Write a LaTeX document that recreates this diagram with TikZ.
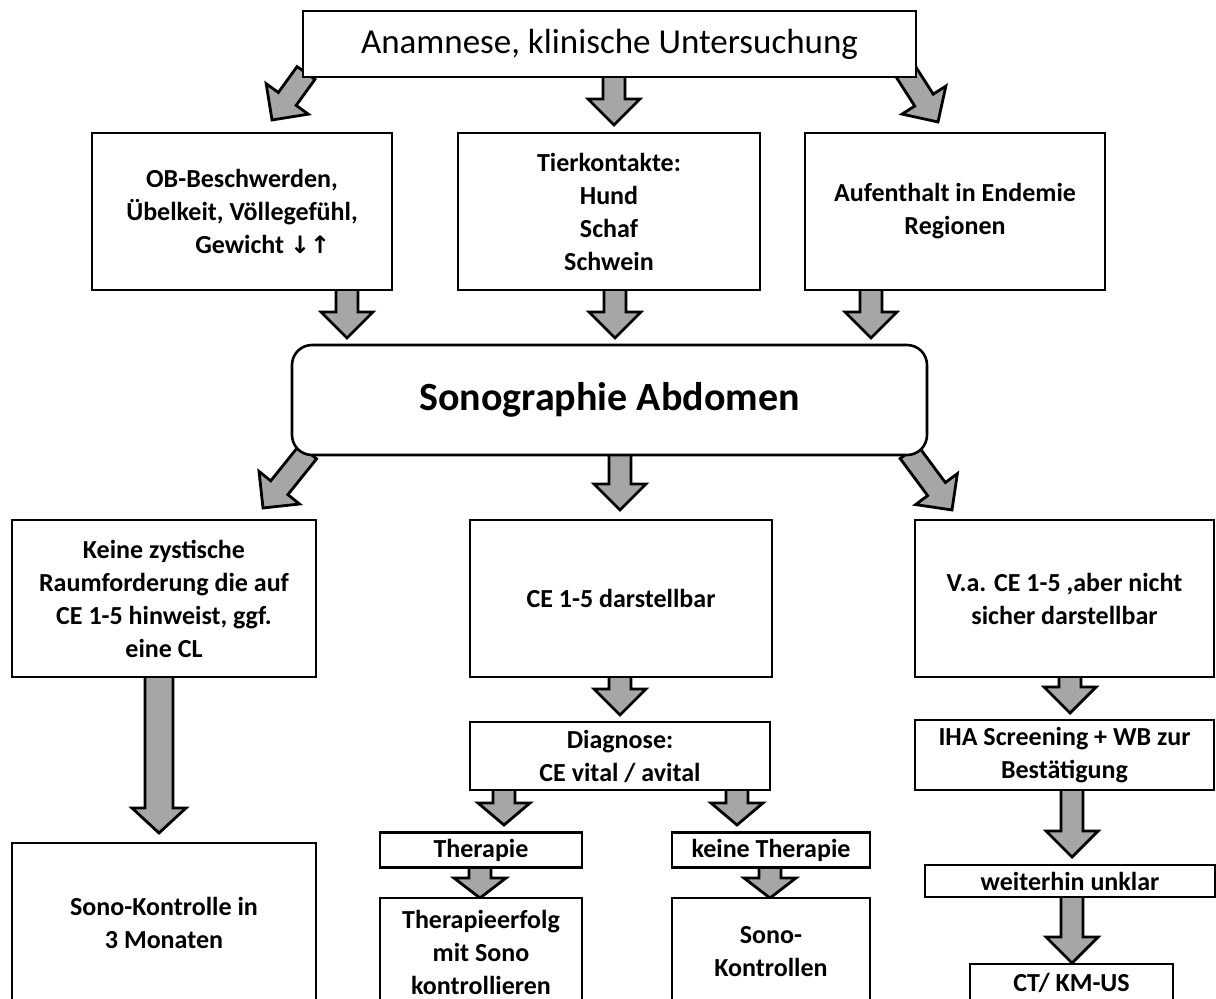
\documentclass[tikz,border=0pt]{standalone}
\usepackage{fontspec}
\setmainfont{Carlito}
\newfontfamily\arrowfont{DejaVu Sans}
\usetikzlibrary{calc,backgrounds}
\pgfdeclarelayer{background}
\pgfsetlayers{background,main}
\def\bsw{11pt}\def\bhw{26pt}\def\bhl{26pt}
\newcommand\blockarrow[2]{%
  \path let \p1=(#1),\p2=(#2) in \pgfextra{%
    \pgfmathparse{atan2(\y2-\y1,\x2-\x1)}\xdef\baang{\pgfmathresult}%
    \pgfmathparse{veclen(\x2-\x1,\y2-\y1)}\xdef\balen{\pgfmathresult}};
  \begin{scope}[shift={(#1)},rotate=\baang]
    \draw[barrow] (0pt,-\bsw) -- ({\balen pt-\bhl},-\bsw) -- ({\balen pt-\bhl},-\bhw)
      -- (\balen pt,0pt) -- ({\balen pt-\bhl},\bhw) -- ({\balen pt-\bhl},\bsw) -- (0pt,\bsw) -- cycle;
  \end{scope}}
\begin{document}
\begin{tikzpicture}[x=1pt,y=-1pt,
  barrow/.style={fill=black!35,draw=black,line width=2.8pt},
  box/.style={draw,line width=2.6pt,fill=white,align=center,inner sep=0pt,
    font=\bfseries\fontsize{26}{33}\selectfont},
  bw/.style={minimum width=#1},
  bh/.style={minimum height=#1}]
\clip (0,0) rectangle (1216,999);
\begin{pgfonlayer}{background}
\fill[white] (0,0) rectangle (1216,999);
\end{pgfonlayer}
% boxes
\node[box,bw=613pt,bh=66pt,font=\fontsize{35}{40}\selectfont] (top) at (609.5,44) {Anamnese, klinische Untersuchung};
\node[box,bw=300pt,bh=157pt] (ob) at (242,211.5) {OB-Beschwerden,\\ Übelkeit, Völlegefühl,\\ \hspace*{1.6em}Gewicht {\arrowfont\fontsize{24}{33}\selectfont ↓↑}};
\node[box,bw=302pt,bh=157pt] (tier) at (609,211.5) {Tierkontakte:\\ Hund\\ Schaf\\ Schwein};
\node[box,bw=300pt,bh=157pt] (auf) at (955,211.5) {Aufenthalt in Endemie\\ Regionen};
\node[box,bw=635pt,bh=110pt,rounded corners=20pt,font=\bfseries\fontsize{40}{44}\selectfont] (sono) at (609.5,400) {Sonographie Abdomen};
\node[box,bw=304pt,bh=157pt] (keine) at (164,598.5) {Keine zystische\\ Raumforderung die auf\\ CE 1-5 hinweist, ggf.\\ eine CL};
\node[box,bw=302pt,bh=157pt] (ce) at (621,598.5) {CE 1-5 darstellbar};
\node[box,bw=299pt,bh=157pt] (va) at (1064.5,598.5) {V.a. CE 1-5 ,aber nicht\\ sicher darstellbar};
\node[box,bw=304pt,bh=160pt] (skm) at (164,923) {Sono-Kontrolle in\\ 3 Monaten};
\node[box,bw=300pt,bh=68pt] (diag) at (620,756) {Diagnose:\\ CE vital / avital};
\node[box,bw=202pt,bh=35pt] (ther) at (481,850) {Therapie};
\node[box,bw=198pt,bh=35pt] (kther) at (771,850) {keine Therapie};
\node[box,bw=202pt,bh=108pt] (terf) at (481,952) {Therapieerfolg\\ mit Sono\\ kontrollieren};
\node[box,bw=198pt,bh=108pt] (skon) at (771,952) {Sono-\\ Kontrollen};
\node[box,bw=299pt,bh=70pt] (iha) at (1064.5,755) {IHA Screening + WB zur\\ Bestätigung};
\node[box,bw=290pt,bh=32pt] (wu) at (1070,881) {weiterhin unklar};
\node[box,bw=203pt,bh=38pt] (ct) at (1071.5,983) {CT/ KM-US};
% arrow end points
\coordinate (t1a) at (306,73);  \coordinate (t1b) at (272,120);
\coordinate (t2a) at (614,72);  \coordinate (t2b) at (614,125);
\coordinate (t3a) at (906,72);  \coordinate (t3b) at (938,122);
\coordinate (r1a) at (347,286); \coordinate (r1b) at (347,338);
\coordinate (r2a) at (615,286); \coordinate (r2b) at (615,338);
\coordinate (r3a) at (871,286); \coordinate (r3b) at (871,338);
\coordinate (s1a) at (308,452); \coordinate (s1b) at (263,508);
\coordinate (s2a) at (620,451); \coordinate (s2b) at (620,510);
\coordinate (s3a) at (909,452); \coordinate (s3b) at (952,510);
\coordinate (k1a) at (159,673); \coordinate (k1b) at (159,833);
\coordinate (c1a) at (620,673); \coordinate (c1b) at (620,715);
\coordinate (d1a) at (504,786); \coordinate (d1b) at (504,825);
\coordinate (d2a) at (737,786); \coordinate (d2b) at (737,825);
\coordinate (h1a) at (480,864); \coordinate (h1b) at (480,898);
\coordinate (h2a) at (770,864); \coordinate (h2b) at (770,898);
\coordinate (v1a) at (1070,673); \coordinate (v1b) at (1070,713);
\coordinate (v2a) at (1072,786); \coordinate (v2b) at (1072,857);
\coordinate (v3a) at (1072,894); \coordinate (v3b) at (1072,963);
\begin{pgfonlayer}{background}
\blockarrow{t1a}{t1b}\blockarrow{t2a}{t2b}\blockarrow{t3a}{t3b}
\blockarrow{r1a}{r1b}\blockarrow{r2a}{r2b}\blockarrow{r3a}{r3b}
\blockarrow{s1a}{s1b}\blockarrow{s2a}{s2b}\blockarrow{s3a}{s3b}
\blockarrow{c1a}{c1b}
\def\bhl{22pt}
\blockarrow{d1a}{d1b}\blockarrow{d2a}{d2b}
\def\bhl{20pt}
\blockarrow{h1a}{h1b}\blockarrow{h2a}{h2b}
\def\bhl{26pt}
\blockarrow{v1a}{v1b}\blockarrow{v2a}{v2b}\blockarrow{v3a}{v3b}
\def\bsw{14pt}\def\bhw{27pt}\def\bhl{25pt}
\blockarrow{k1a}{k1b}
\end{pgfonlayer}
\end{tikzpicture}
\end{document}
